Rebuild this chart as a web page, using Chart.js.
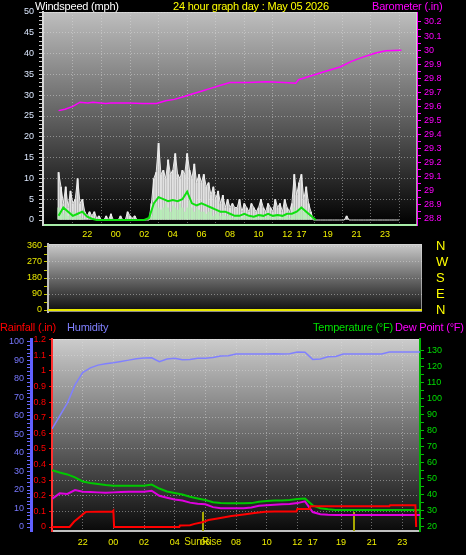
<!DOCTYPE html>
<html>
<head>
<meta charset="utf-8">
<title>24 hour graph</title>
<script src="https://cdn.jsdelivr.net/npm/chart.js@4.4.1/dist/chart.umd.min.js"></script>
<style>
  html, body { margin: 0; padding: 0; background: #000; }
  body { position: relative; width: 466px; height: 555px; overflow: hidden; font-family: "Liberation Sans", Arial, sans-serif; }
  canvas { position: absolute; left: 0; }
  .lbl { position: absolute; font-size: 11px; line-height: 12px; letter-spacing: -0.2px; white-space: nowrap; z-index: 2; }
</style>
</head>
<body>
<div class="lbl" style="left:35px;top:0;color:#fff">Windspeed (mph)</div>
<div class="lbl" style="left:173px;top:0;color:#ffff00">24 hour graph day : May 05 2026</div>
<div class="lbl" style="left:372px;top:0;color:#ff00ff">Barometer (.in)</div>
<div class="lbl" style="left:0;top:321px;color:#ff0000">Rainfall (.in)</div>
<div class="lbl" style="left:67px;top:321px;color:#8080ff">Humidity</div>
<div class="lbl" style="left:313px;top:321px;color:#00e000">Temperature (°F)</div>
<div class="lbl" style="left:395px;top:321px;color:#ff00ff">Dew Point (°F)</div>

<canvas id="wind" width="466" height="248" style="top:0"></canvas>
<canvas id="dir" width="466" height="92" style="top:232px"></canvas>
<canvas id="temp" width="466" height="230" style="top:325px"></canvas>

<script>
// time axis (hours from the left edge of the plot)
const xTickLabels = ['22', '00', '02', '04', '06', '08', '10', '12', '17', '19', '21', '23'];
const xTickHours = [2, 4, 6, 8, 10, 12, 14, 16, 17, 18.85, 20.85, 22.85];

// wind, 10 minute samples (mph)
const windGust = [
  11.5, 8, 4, 8, 3, 7, 4, 5, 10, 4, 5, 2, 1,
  2, 1, 2, 0.5, 1, 0, 0, 1, 0, 1.5, 0, 0, 0, 1, 0, 0, 2, 1, 0.5, 1, 0, 0, 0, 0, 0, 0,
  4, 10, 11.5, 18.5, 11, 12, 10, 14.5, 11, 12, 16, 11, 10, 12, 11, 16, 12, 10, 13.5, 9, 11, 9,
  11, 8, 9, 6, 8, 5, 7, 4, 6, 3, 5, 3, 4, 3, 3, 5, 2, 4, 3, 2,
  4, 3, 2, 3, 5, 3, 2, 4, 3, 2, 5, 3, 4, 2, 5, 3, 2, 4,
  11, 6, 9, 11, 5, 8, 4, 2,
  0, 0, 0, 0, 0, 0, 0, 0, 0, 0, 0, 0, 0, 0, 1, 0, 0, 0, 0, 0, 0, 0, 0, 0, 0, 0, 0, 0, 0, 0, 0, 0, 0, 0, 0, 0, 0
];
const windSpeed = [
  3, 2, 1.5, 2.5, 1, 1.5, 2, 1, 1.5, 1, 0.5, 0, 0,
  0, 0, 0, 0, 0, 0, 0, 0, 0, 0, 0, 0, 0, 0, 0, 0, 0, 0, 0, 0, 0, 0, 0, 0, 0, 0,
  1, 3, 4, 3, 2.5, 3, 4, 3, 2, 3.5, 3, 2.5, 4, 3, 2, 3, 4.5, 3, 2, 3, 2.5, 2,
  2, 1.5, 2, 2.5, 1, 1.5, 2, 1, 1.5, 1, 1, 1.5, 0.5, 1, 1.5, 1, 0.5, 1, 1.5, 1,
  0.5, 1, 1, 0.5, 1.5, 1, 0.5, 1, 1, 0.5, 1.5, 1, 0.5, 1, 1.5, 1, 0.5, 1.5,
  3, 2, 2.5, 3, 2, 2.5, 1, 0.5,
  0, 0, 0, 0, 0, 0, 0, 0, 0, 0, 0, 0, 0, 0, 0, 0, 0, 0, 0, 0, 0, 0, 0, 0, 0, 0, 0, 0, 0, 0, 0, 0, 0, 0, 0, 0, 0
];
// average wind, 20 minute samples
const windAvg = [
  1, 3, 2, 1, 1.5, 2, 0.8, 0.3, 0, 0, 0, 0, 0, 0, 0, 0, 0, 0, 0,
  0.5, 4, 5.5, 5, 4.5, 4.8, 4.5, 5, 6.8, 4, 3.5, 4, 3.5, 3, 2.5, 2, 2, 1.5, 1, 1,
  1.5, 1, 0.8, 1.2, 1, 1.5, 1, 1.2, 1, 1.5, 1.5, 2, 3, 2, 1, 0,
  null, null, null, null, null, null, null, null, null, null, null, null, null, null, null, null, null
];

// barometer (.in)
const baroHours = [0, 0.45, 1, 1.5, 2.05, 2.4, 3.3, 3.65, 4.9, 5.9, 6.85, 7.5, 8.1, 8.8, 9.4, 10.05,
  10.7, 11.35, 12, 13.3, 14.55, 15.8, 16.6, 16.8, 17.75, 18.7, 19.7, 20.5, 21.3, 22.2, 22.9, 24];
const baroValues = [29.57, 29.58, 29.6, 29.63, 29.625, 29.63, 29.62, 29.625, 29.625, 29.62, 29.62, 29.64,
  29.65, 29.67, 29.69, 29.71, 29.73, 29.75, 29.77, 29.77, 29.775, 29.77, 29.765, 29.79, 29.82, 29.85,
  29.88, 29.92, 29.95, 29.98, 29.995, 30];

// wind direction, hourly (degrees)
const windDir = [0, 0, 0, 0, 0, 0, 0, 0, 0, 0, 0, 0, 0, 0, 0, 0, 0, 0, 0, 0, 0, 0, 0, 0, 0];

// half hour samples
const humidity = [53, 60, 67, 76.8, 83.5, 86, 87.5, 88.3, 88.8, 89.5, 90.2, 91, 91.4, 91.5, 89.4, 90.8,
  91.2, 90.4, 90.6, 91.2, 91.2, 91.6, 92.4, 92.6, 93.5, 93.5, 93.5, 93.5, 93.5, 93.6, 93.5, 93.6, 94.6,
  94.5, 90.6, 90.8, 92, 92.2, 93.5, 93.5, 93.5, 93.5, 93.5, 93.5, 94.6, 94.6, 94.6, 94.6, 94.6];
const temperature = [55.5, 54, 52.8, 51, 48.4, 47.5, 46.8, 46.2, 45.8, 45.8, 45.8, 45.8, 45.8, 46.5, 44,
  42.2, 41.2, 40.3, 38.9, 37.8, 36.8, 35.5, 34.9, 34.8, 34.8, 34.8, 34.9, 35.7, 36.2, 36.5, 36.6, 36.8,
  37.5, 37.8, 33.5, 31.7, 31, 30.6, 30.6, 30.6, 30.6, 30.6, 30.6, 30.6, 30.6, 30.6, 30.6, 30.6, 30.6];
const dewPoint = [37.5, 41, 40.6, 43, 42, 41.8, 41.6, 41.4, 41.6, 41.8, 42, 42, 42, 42.6, 39.5, 38.3,
  37.2, 36.5, 35.2, 34.5, 34.2, 32.4, 31.7, 31.7, 31.7, 31.7, 32.2, 33.2, 33.6, 33.9, 34.2, 34.3, 34.9,
  36, 29.3, 28, 27.6, 27.5, 27.5, 27.5, 27.5, 27.5, 27.5, 27.5, 27.5, 27.5, 27.5, 27.5, 27.5];

// rainfall (.in)
const rainHours = [0, 1.15, 1.45, 1.75, 2.2, 3.95, 4, 4.05, 8.3, 8.35, 9, 9.3, 9.8, 10.2, 10.8, 11.7,
  12.5, 13.2, 13.9, 14.5, 15.95, 16, 16.8, 16.85, 22, 22.05, 23.7, 23.75];
const rainValues = [0, 0, 0.035, 0.06, 0.097, 0.1, 0.105, 0, 0, 0.01, 0.012, 0.02, 0.03, 0.045, 0.055,
  0.07, 0.08, 0.09, 0.098, 0.1, 0.1, 0.115, 0.115, 0.133, 0.133, 0.14, 0.14, 0];

const sunriseHour = 9.85;
const sunsetHour = 19.7;

// axis labels
const windLabels = [0, 5, 10, 15, 20, 25, 30, 35, 40, 45, 50];
const baroLabels = [28.8, 28.9, 29, 29.1, 29.2, 29.3, 29.4, 29.5, 29.6, 29.7, 29.8, 29.9, 30, 30.1, 30.2];
const dirLabels = [0, 90, 180, 270, 360];
const compassLabels = ['N', 'E', 'S', 'W', 'N'];
const humLabels = [0, 10, 20, 30, 40, 50, 60, 70, 80, 90, 100];
const rainLabels = [0, 0.1, 0.2, 0.3, 0.4, 0.5, 0.6, 0.7, 0.8, 0.9, 1, 1.1, 1.2];
const tempLabels = [20, 30, 40, 50, 60, 70, 80, 90, 100, 110, 120, 130];

Chart.defaults.font.family = '"Liberation Sans", Arial, sans-serif';
Chart.defaults.font.size = 9;

const pts = (values, step) => values.map((v, i) => ({ x: i * step, y: v }));
const pairs = (hours, values) => hours.map((h, i) => ({ x: h, y: values[i] }));
const steps = (from, to, step) => {
  const out = [];
  for (let v = from; v <= to + 1e-9; v += step) out.push(Math.round(v * 100) / 100);
  return out;
};
const fmt = v => String(Number(v.toFixed(1)));
const clear = 'rgba(0,0,0,0)';
const gridCol = 'rgba(225,225,225,0.45)';

const panelBg = {
  id: 'panelBg',
  beforeDraw(chart, args, opts) {
    const { ctx, chartArea: a } = chart;
    const g = ctx.createLinearGradient(0, a.top, 0, a.bottom);
    g.addColorStop(0, opts.top);
    g.addColorStop(1, opts.bottom);
    ctx.save();
    ctx.fillStyle = g;
    ctx.fillRect(a.left, a.top, a.width, a.height);
    ctx.strokeStyle = opts.frame;
    ctx.strokeRect(a.left + 0.5, a.top + 0.5, a.width - 1, a.height - 1);
    ctx.restore();
  }
};

const sunMarks = {
  id: 'sunMarks',
  beforeDatasetsDraw(chart) {
    const { ctx, chartArea: a } = chart;
    const x = chart.scales.x;
    ctx.save();
    ctx.strokeStyle = '#a8a800';
    ctx.lineWidth = 2;
    [sunriseHour, sunsetHour].forEach(h => {
      const px = Math.round(x.getPixelForValue(h));
      ctx.beginPath();
      ctx.moveTo(px, a.bottom);
      ctx.lineTo(px, a.bottom - 19);
      ctx.stroke();
    });
    ctx.fillStyle = '#d8d800';
    ctx.font = '10px "Liberation Sans", Arial';
    ctx.textAlign = 'center';
    ctx.textBaseline = 'middle';
    ctx.fillText('SunRise', x.getPixelForValue(sunriseHour), a.bottom + 11);
    ctx.restore();
  }
};

function timeAxis(height, pad, borderColor) {
  return {
    type: 'linear', min: 0, max: 24,
    afterBuildTicks: s => { s.ticks = xTickHours.map(v => ({ value: v })); },
    afterFit: s => { s.height = height; },
    ticks: { autoSkip: false, maxRotation: 0, color: '#f0f000', padding: pad,
      callback: (v, i) => xTickLabels[i] },
    grid: { drawTicks: false, color: c => (c.tick && c.tick.value === 17) ? clear : gridCol },
    border: { color: borderColor, width: 2, dash: [1, 2] }
  };
}

function yAxis(o) {
  return {
    position: o.position, weight: o.weight || 0, min: o.min, max: o.max,
    afterBuildTicks: s => { s.ticks = o.ticks.map(v => ({ value: v })); },
    afterFit: s => { s.width = o.width; },
    ticks: { autoSkip: false, color: o.color, padding: o.padding,
      callback: v => o.labels.includes(v) ? fmt(v) : '' },
    grid: {
      drawOnChartArea: !!o.grid,
      color: c => (o.grid && c.tick && o.labels.includes(c.tick.value) && c.tick.value > o.labels[0]) ? gridCol : clear,
      tickColor: o.tickColor, tickLength: o.tickLength || 4
    },
    border: { color: o.borderColor, width: o.borderWidth || 1, dash: [1, 2] }
  };
}

const common = {
  responsive: false, animation: false, events: [],
};

// top panel: wind speed and barometer
new Chart(document.getElementById('wind'), {
  type: 'line',
  data: {
    datasets: [
      { label: 'Barometer', data: pairs(baroHours, baroValues), yAxisID: 'baro',
        borderColor: '#ff00ff', borderWidth: 1.5, pointRadius: 0, order: 0 },
      { label: 'Average', data: pts(windAvg, 1 / 3), yAxisID: 'wind',
        borderColor: '#10e010', borderWidth: 2, pointRadius: 0, order: 1 },
      { type: 'bar', label: 'Speed', data: pts(windSpeed, 1 / 6), yAxisID: 'wind',
        backgroundColor: '#b8ecb8', grouped: false, barPercentage: 1, categoryPercentage: 0.9, order: 2 },
      { label: 'Gust', data: pts(windGust, 1 / 6), yAxisID: 'wind', fill: 'origin',
        backgroundColor: 'rgba(225,225,225,0.55)',
        borderColor: 'rgba(240,240,240,0.95)', borderWidth: 1, pointRadius: 0, order: 3 },
      { type: 'bar', label: 'Gust', data: pts(windGust, 1 / 6), yAxisID: 'wind',
        backgroundColor: 'rgba(245,245,245,0.9)', grouped: false, barPercentage: 1, categoryPercentage: 0.85, order: 4 }
    ]
  },
  options: {
    ...common,
    layout: { padding: { top: 12 } },
    plugins: { legend: { display: false }, tooltip: { enabled: false },
      panelBg: { top: '#bebebe', bottom: '#000000', frame: 'rgba(220,220,220,0.7)' } },
    scales: {
      x: timeAxis(23, 4, '#a8eca8'),
      wind: yAxis({ position: 'left', min: -1.2, max: 50, ticks: steps(0, 50, 1), labels: windLabels,
        width: 43, color: '#dce8ff', padding: 5, grid: true, tickColor: '#c8c8c8', borderColor: '#d8d8d8', borderWidth: 2 }),
      baro: yAxis({ position: 'right', min: 28.757, max: 30.271, ticks: steps(28.8, 30.2, 0.05), labels: baroLabels,
        width: 49, color: '#ff00ff', padding: 3, tickColor: '#ff00ff', borderColor: '#ff00ff' })
    }
  },
  plugins: [panelBg]
});

// middle panel: wind direction
new Chart(document.getElementById('dir'), {
  type: 'line',
  data: {
    datasets: [
      { label: 'Direction', data: pts(windDir, 1), yAxisID: 'dir',
        borderColor: '#e8e800', borderWidth: 2, pointRadius: 0 }
    ]
  },
  options: {
    ...common,
    layout: { padding: { top: 12, bottom: 12 } },
    plugins: { legend: { display: false }, tooltip: { enabled: false },
      panelBg: { top: '#cacaca', bottom: '#0c0c0c', frame: 'rgba(220,220,220,0.6)' } },
    scales: {
      x: { type: 'linear', min: 0, max: 24, display: false },
      dir: yAxis({ position: 'left', min: -11.25, max: 371.25, ticks: steps(0, 360, 45), labels: dirLabels,
        width: 48, color: '#e8e800', padding: 2, grid: true, tickColor: '#c8c800', borderColor: '#bdbdbd', borderWidth: 2 }),
      compass: {
        position: 'right', min: -11.25, max: 371.25,
        afterBuildTicks: s => { s.ticks = dirLabels.map(v => ({ value: v })); },
        afterFit: s => { s.width = 44; },
        ticks: { autoSkip: false, color: '#ffff00', font: { size: 13 }, padding: 0,
          callback: (v, i) => compassLabels[i] },
        grid: { display: true, drawOnChartArea: false, drawTicks: true, tickLength: 14, tickColor: clear },
        border: { display: false }
      }
    }
  },
  plugins: [panelBg]
});

// bottom panel: rain, humidity, temperature, dew point
new Chart(document.getElementById('temp'), {
  type: 'line',
  data: {
    datasets: [
      { label: 'Rainfall', data: pairs(rainHours, rainValues), yAxisID: 'rain',
        borderColor: '#ff0000', borderWidth: 2, pointRadius: 0, order: 0 },
      { label: 'Temperature', data: pts(temperature, 0.5), yAxisID: 'temp',
        borderColor: '#00c800', borderWidth: 2, pointRadius: 0, order: 1 },
      { label: 'Dew Point', data: pts(dewPoint, 0.5), yAxisID: 'temp',
        borderColor: '#e000e0', borderWidth: 2, pointRadius: 0, order: 2 },
      { label: 'Humidity', data: pts(humidity, 0.5), yAxisID: 'hum',
        borderColor: '#8080ff', borderWidth: 1.5, pointRadius: 0, order: 3 }
    ]
  },
  options: {
    ...common,
    layout: { padding: { top: 14 } },
    plugins: { legend: { display: false }, tooltip: { enabled: false },
      panelBg: { top: '#cccccc', bottom: '#0a0a0a', frame: 'rgba(220,220,220,0.7)' } },
    scales: {
      x: timeAxis(24, 6, '#c0c0c0'),
      hum: yAxis({ position: 'left', weight: 2, min: -2.16, max: 101.62, ticks: steps(0, 100, 2), labels: humLabels,
        width: 31, color: '#7878ff', padding: 3, tickColor: '#6868ff', borderColor: '#6060ff', borderWidth: 3 }),
      rain: yAxis({ position: 'left', weight: 1, min: -0.0256, max: 1.205, ticks: rainLabels, labels: rainLabels,
        width: 21, color: '#ff0000', padding: 3, grid: true, tickColor: '#ff0000', borderColor: '#ff3030', borderWidth: 2, tickLength: 3 }),
      temp: yAxis({ position: 'right', min: 17.5, max: 137.3, ticks: steps(20, 130, 5), labels: tempLabels,
        width: 46, color: '#00dd00', padding: 3, tickColor: '#00c000', borderColor: '#00b000', borderWidth: 2 })
    }
  },
  plugins: [panelBg, sunMarks]
});
</script>
</body>
</html>
